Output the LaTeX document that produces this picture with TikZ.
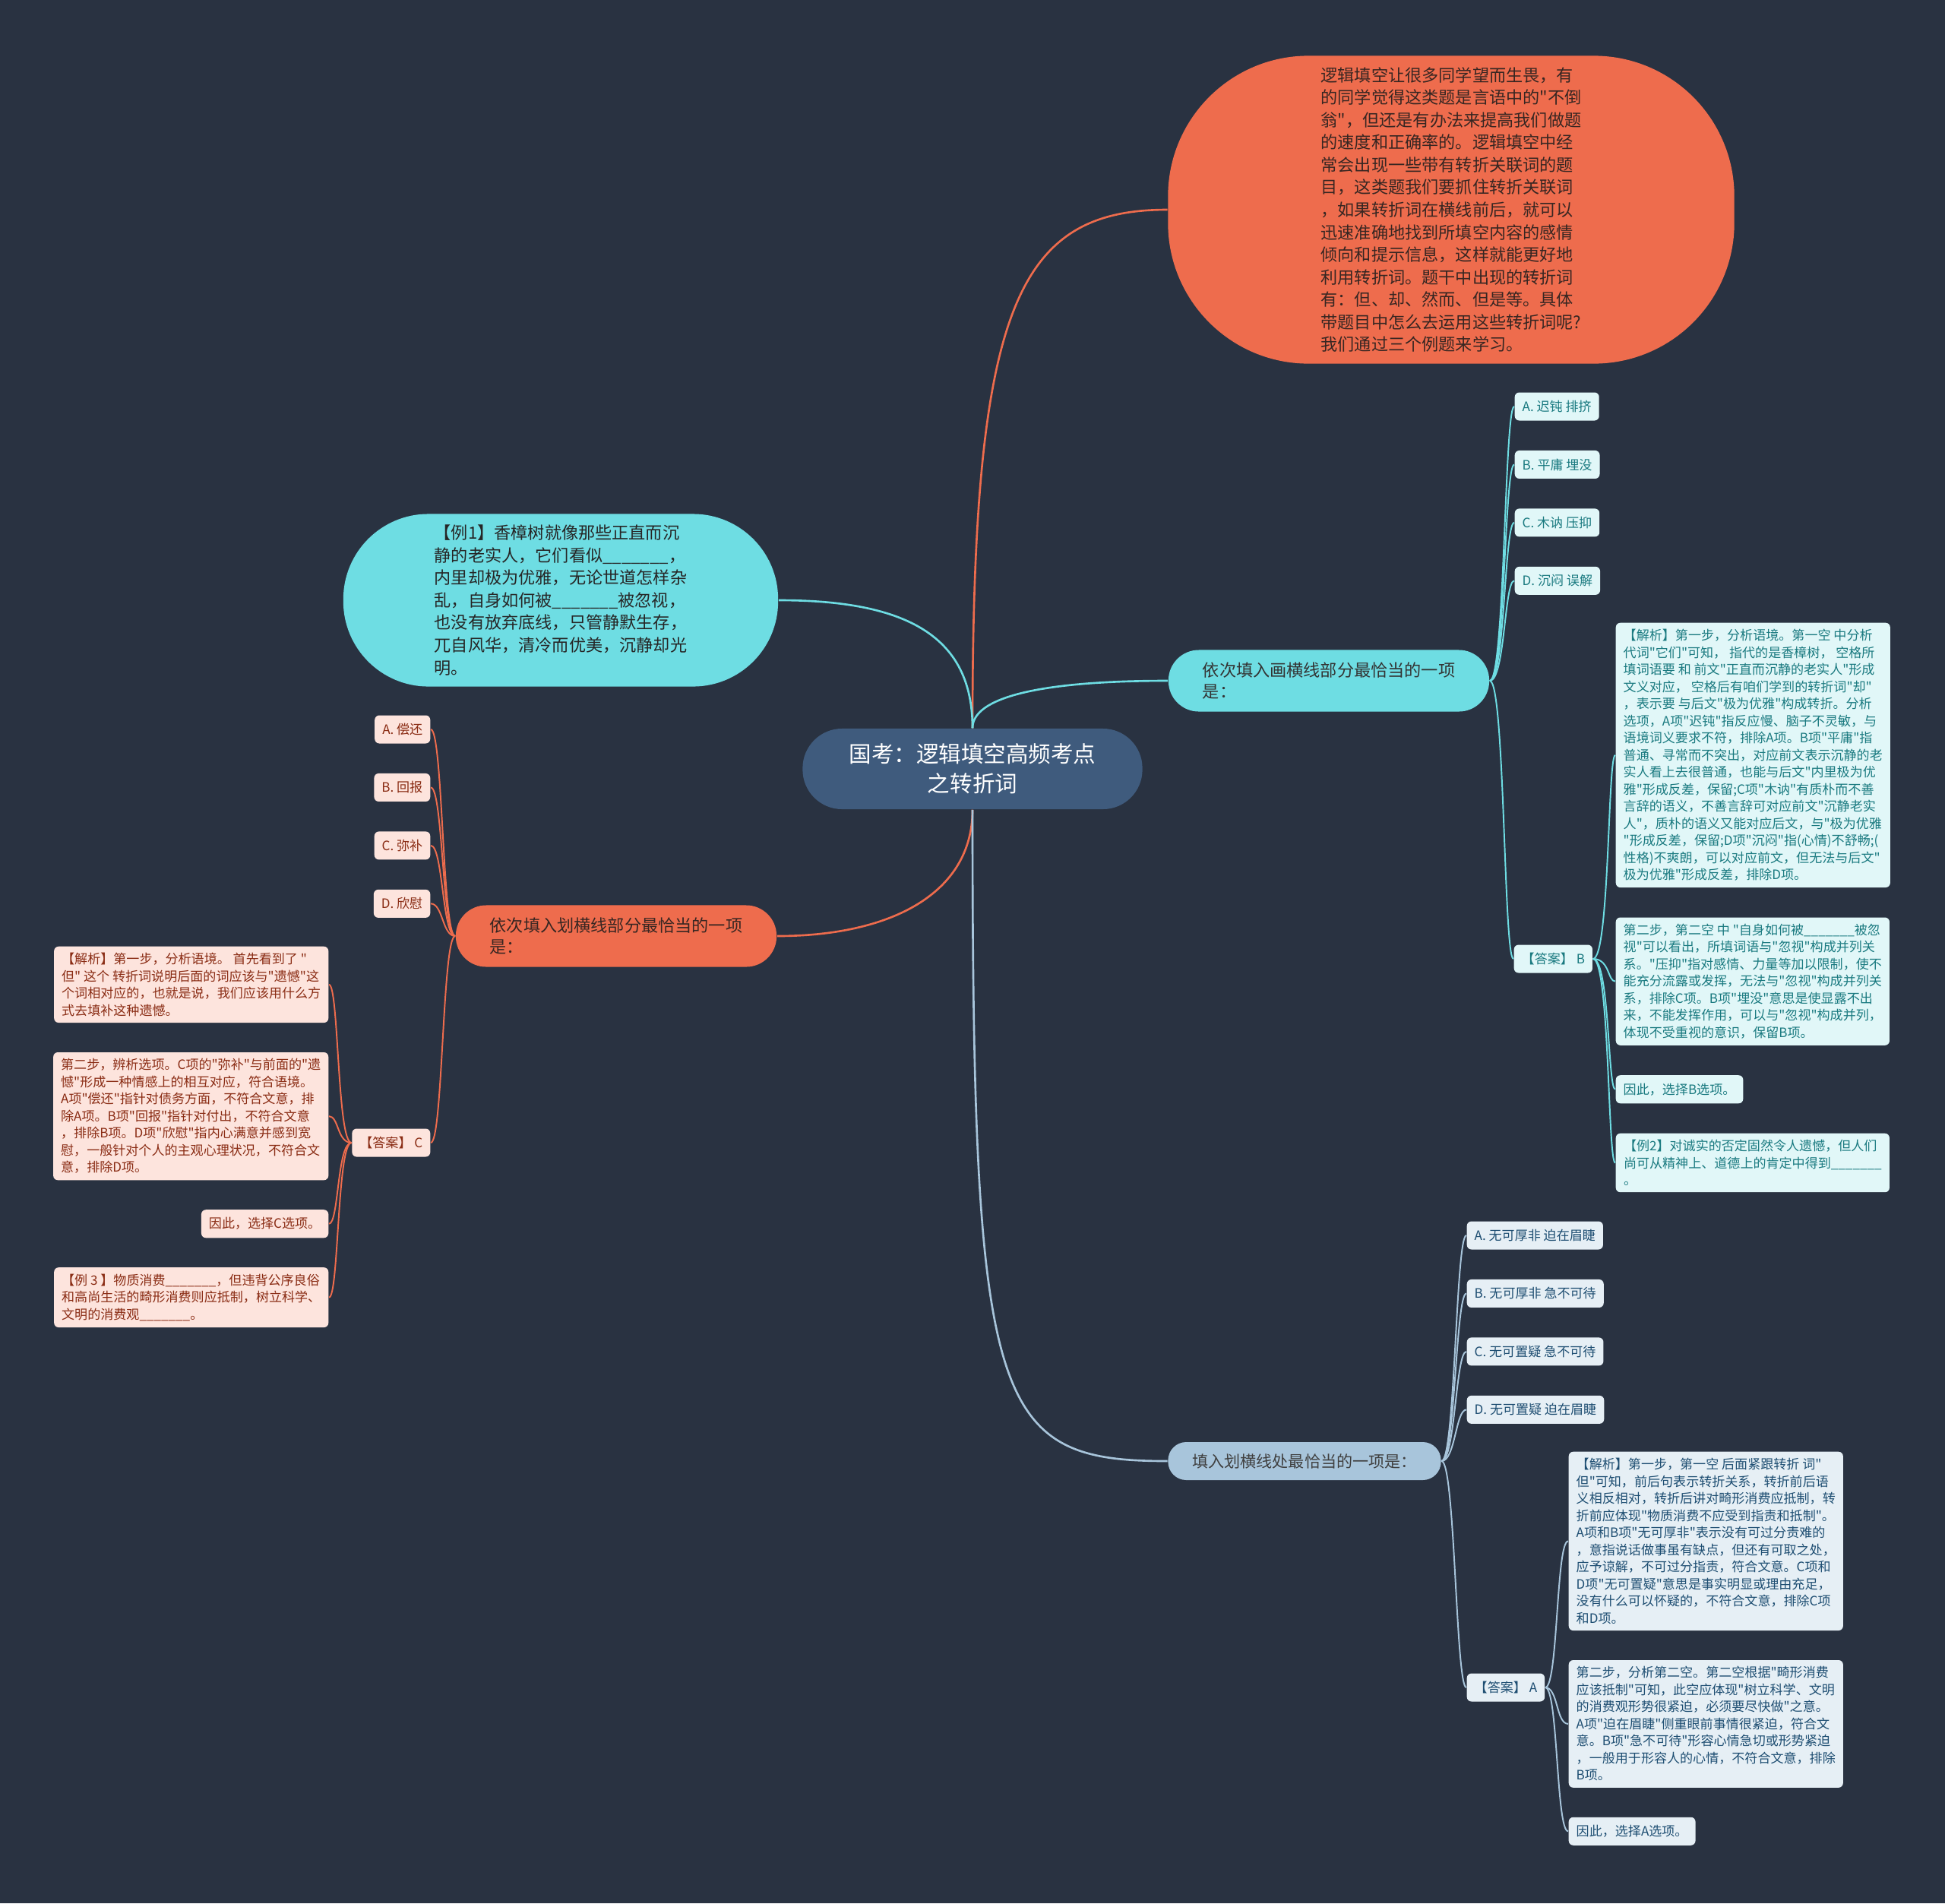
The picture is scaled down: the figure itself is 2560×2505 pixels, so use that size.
\documentclass[tikz,border=0pt]{standalone}
\usepackage{fontspec}
\setmainfont{Noto Sans CJK SC}[Ligatures=TeXOff]
\usetikzlibrary{positioning}

\definecolor{bgNavy}{RGB}{41,50,65}
\definecolor{topicBlue}{RGB}{63,91,125}
\definecolor{coral}{RGB}{238,108,77}
\definecolor{aqua}{RGB}{110,221,227}
\definecolor{steel}{RGB}{168,197,219}
\definecolor{coralLeaf}{RGB}{253,228,221}
\definecolor{aquaLeaf}{RGB}{225,247,248}
\definecolor{steelLeaf}{RGB}{230,239,245}
\definecolor{coralInk}{RGB}{138,44,20}
\definecolor{aquaInk}{RGB}{26,122,128}
\definecolor{steelInk}{RGB}{30,78,114}
\definecolor{darkInk}{RGB}{55,38,34}

\newcommand{\blank}{\_\_\_\_\_\_\_}

\tikzset{topic/.style={rectangle,rounded corners=0.52cm,fill=topicBlue,text=white,
			minimum width=4.47cm,minimum height=1.06cm,inner sep=0pt,align=center,
			font=\fontsize{8.4pt}{11.1pt}\selectfont},
		bubble/.style={rectangle,inner sep=0pt,align=left,font=\fontsize{6.3pt}{8.4pt}\selectfont},
		introBubble/.style={bubble,fill=coral,text=darkInk,rounded corners=1.85cm,
			minimum width=7.45cm,minimum height=4.05cm},
		exBubble/.style={bubble,fill=aqua,text=black!85,rounded corners=1.12cm,
			minimum width=5.72cm,minimum height=2.27cm},
		branch/.style={rectangle,inner sep=0pt,align=left,minimum width=4.22cm,
			minimum height=0.81cm,rounded corners=0.4cm,font=\fontsize{6.3pt}{8.1pt}\selectfont},
		branchAqua/.style={branch,fill=aqua,text=black!80},
		branchCoral/.style={branch,fill=coral,text=darkInk},
		branchSteel/.style={branch,fill=steel,text=black!75,minimum width=3.59cm,
			minimum height=0.5cm,rounded corners=0.24cm,font=\fontsize{6pt}{8pt}\selectfont},
		leaf/.style={rectangle,rounded corners=0.06cm,inner xsep=0.1cm,inner ysep=0.085cm,
			align=left,minimum height=0.37cm,font=\fontsize{4.85pt}{6.4pt}\selectfont},
		optAqua/.style={leaf,fill=aquaLeaf,text=aquaInk},
		optCoral/.style={leaf,fill=coralLeaf,text=coralInk},
		optSteel/.style={leaf,fill=steelLeaf,text=steelInk},
		noteAqua/.style={optAqua,minimum width=3.6cm},
		noteCoral/.style={optCoral,minimum width=3.6cm},
		noteSteel/.style={optSteel,minimum width=3.6cm},
		edgeAqua/.style={draw=aqua,line width=0.75pt},
		edgeCoral/.style={draw=coral,line width=0.75pt},
		edgeSteel/.style={draw=steel,line width=0.75pt},
		twigAqua/.style={draw=aqua,line width=0.55pt},
		twigCoral/.style={draw=coral,line width=0.55pt},
		twigSteel/.style={draw=steel,line width=0.55pt}}

\begin{document}
\begin{tikzpicture}[x=0.01cm,y=-0.01cm]
	\fill[bgNavy] (0,0) rectangle (2560,2505);

	\node [topic] (topic) at (1280,1012) {国考：逻辑填空高频考点\\之转折词};

	\node [introBubble] (intro) at (1910,276) {%
逻辑填空让很多同学望而生畏，有\\%
的同学觉得这类题是言语中的"不倒\\%
翁"，但还是有办法来提高我们做题\\%
的速度和正确率的。逻辑填空中经\\%
常会出现一些带有转折关联词的题\\%
目，这类题我们要抓住转折关联词\\%
，如果转折词在横线前后，就可以\\%
迅速准确地找到所填空内容的感情\\%
倾向和提示信息，这样就能更好地\\%
利用转折词。题干中出现的转折词\\%
有：但、却、然而、但是等。具体\\%
带题目中怎么去运用这些转折词呢?\\%
我们通过三个例题来学习。};

	\node [exBubble] (ex1) at (738,790) {%
【例1】香樟树就像那些正直而沉\\%
静的老实人，它们看似\blank{}，\\%
内里却极为优雅，无论世道怎样杂\\%
乱，自身如何被\blank{}被忽视，\\%
也没有放弃底线，只管静默生存，\\%
兀自风华，清冷而优美，沉静却光\\%
明。};

	\node [branchAqua] (qAqua) at (1749,896) {依次填入画横线部分最恰当的一项\\是：};
	\node [branchCoral] (qCoral) at (811,1232) {依次填入划横线部分最恰当的一项\\是：};
	\node [branchSteel] (qSteel) at (1717,1923) {填入划横线处最恰当的一项是：};

	%example 1 options
	\node [optAqua, anchor=west] (aA) at (1993,535) {A. 迟钝 排挤};
	\node [optAqua, below=0.38cm of aA.south west, anchor=north west] (aB) {B. 平庸 埋没};
	\node [optAqua, below=0.38cm of aB.south west, anchor=north west] (aC) {C. 木讷 压抑};
	\node [optAqua, below=0.38cm of aC.south west, anchor=north west] (aD) {D. 沉闷 误解};
	\node [optAqua, anchor=west] (aAns) at (1992,1262) {【答案】 B};

	\node [noteAqua, anchor=north west] (aN1) at (2126,819) {%
【解析】第一步，分析语境。第一空 中分析\\%
代词"它们"可知， 指代的是香樟树， 空格所\\%
填词语要 和 前文"正直而沉静的老实人"形成\\%
文义对应， 空格后有咱们学到的转折词"却"\\%
，表示要 与后文"极为优雅"构成转折。分析\\%
选项，A项"迟钝"指反应慢、脑子不灵敏，与\\%
语境词义要求不符，排除A项。B项"平庸"指\\%
普通、寻常而不突出，对应前文表示沉静的老\\%
实人看上去很普通，也能与后文"内里极为优\\%
雅"形成反差，保留;C项"木讷"有质朴而不善\\%
言辞的语义，不善言辞可对应前文"沉静老实\\%
人"，质朴的语义又能对应后文，与"极为优雅\\%
"形成反差，保留;D项"沉闷"指(心情)不舒畅;(\\%
性格)不爽朗，可以对应前文，但无法与后文"\\%
极为优雅"形成反差，排除D项。};
	\node [noteAqua, below=0.38cm of aN1.south west, anchor=north west] (aN2) {%
第二步，第二空 中 "自身如何被\blank{}被忽\\%
视"可以看出，所填词语与"忽视"构成并列关\\%
系。"压抑"指对感情、力量等加以限制，使不\\%
能充分流露或发挥，无法与"忽视"构成并列关\\%
系，排除C项。B项"埋没"意思是使显露不出\\%
来，不能发挥作用，可以与"忽视"构成并列，\\%
体现不受重视的意识，保留B项。};
	\node [optAqua, below=0.38cm of aN2.south west, anchor=north west] (aN3) {因此，选择B选项。};
	\node [noteAqua, below=0.38cm of aN3.south west, anchor=north west] (aN4) {%
【例2】对诚实的否定固然令人遗憾，但人们\\%
尚可从精神上、道德上的肯定中得到\blank{}\\%
。};

	%example 2 options
	\node [optCoral, anchor=east] (cA) at (567,960) {A. 偿还};
	\node [optCoral, below=0.38cm of cA.south east, anchor=north east] (cB) {B. 回报};
	\node [optCoral, below=0.38cm of cB.south east, anchor=north east] (cC) {C. 弥补};
	\node [optCoral, below=0.38cm of cC.south east, anchor=north east] (cD) {D. 欣慰};
	\node [optCoral, anchor=east] (cAns) at (567,1504) {【答案】 C};

	\node [noteCoral, anchor=north east] (cN1) at (433,1245) {%
【解析】第一步，分析语境。 首先看到了 "\\%
但" 这个 转折词说明后面的词应该与"遗憾"这\\%
个词相对应的，也就是说，我们应该用什么方\\%
式去填补这种遗憾。};
	\node [noteCoral, below=0.375cm of cN1.south east, anchor=north east] (cN2) {%
第二步，辨析选项。C项的"弥补"与前面的"遗\\%
憾"形成一种情感上的相互对应，符合语境。\\%
A项"偿还"指针对债务方面，不符合文意，排\\%
除A项。B项"回报"指针对付出，不符合文意\\%
，排除B项。D项"欣慰"指内心满意并感到宽\\%
慰，一般针对个人的主观心理状况，不符合文\\%
意，排除D项。};
	\node [optCoral, below=0.375cm of cN2.south east, anchor=north east] (cN3) {因此，选择C选项。};
	\node [noteCoral, below=0.375cm of cN3.south east, anchor=north east] (cN4) {%
【例 3 】物质消费\blank{}，但违背公序良俗\\%
和高尚生活的畸形消费则应抵制，树立科学、\\%
文明的消费观\blank{}。};

	%example 3 options
	\node [optSteel, anchor=west] (sA) at (1930,1626) {A. 无可厚非 迫在眉睫};
	\node [optSteel, below=0.38cm of sA.south west, anchor=north west] (sB) {B. 无可厚非 急不可待};
	\node [optSteel, below=0.38cm of sB.south west, anchor=north west] (sC) {C. 无可置疑 急不可待};
	\node [optSteel, below=0.38cm of sC.south west, anchor=north west] (sD) {D. 无可置疑 迫在眉睫};
	\node [optSteel, anchor=west] (sAns) at (1930,2221) {【答案】 A};

	\node [noteSteel, anchor=north west] (sN1) at (2064,1910) {%
【解析】第一步，第一空 后面紧跟转折 词"\\%
但"可知，前后句表示转折关系，转折前后语\\%
义相反相对，转折后讲对畸形消费应抵制，转\\%
折前应体现"物质消费不应受到指责和抵制"。\\%
A项和B项"无可厚非"表示没有可过分责难的\\%
，意指说话做事虽有缺点，但还有可取之处，\\%
应予谅解，不可过分指责，符合文意。C项和\\%
D项"无可置疑"意思是事实明显或理由充足，\\%
没有什么可以怀疑的，不符合文意，排除C项\\%
和D项。};
	\node [noteSteel, below=0.375cm of sN1.south west, anchor=north west] (sN2) {%
第二步，分析第二空。第二空根据"畸形消费\\%
应该抵制"可知，此空应体现"树立科学、文明\\%
的消费观形势很紧迫，必须要尽快做"之意。\\%
A项"迫在眉睫"侧重眼前事情很紧迫，符合文\\%
意。B项"急不可待"形容心情急切或形势紧迫\\%
，一般用于形容人的心情，不符合文意，排除\\%
B项。};
	\node [optSteel, below=0.375cm of sN2.south west, anchor=north west] (sN3) {因此，选择A选项。};

	%edges
	\draw[edgeCoral] (topic.north) .. controls +(0,-550) and +(-200,0) .. (intro.west);
	\draw[edgeAqua] (topic.north) .. controls +(0,-120) and +(170,0) .. (ex1.east);
	\draw[edgeAqua] (topic.north) .. controls +(0,-40) and +(-170,0) .. (qAqua.west);
	\draw[edgeCoral] (topic.south) .. controls +(0,110) and +(150,0) .. (qCoral.east);
	\draw[edgeSteel] (topic.south) .. controls +(0,790) and +(-230,0) .. (qSteel.west);

	\draw[twigAqua] (qAqua.east) .. controls +(20,0) and +(-13,0) .. (aA.west);
	\draw[twigAqua] (qAqua.east) .. controls +(20,0) and +(-13,0) .. (aB.west);
	\draw[twigAqua] (qAqua.east) .. controls +(20,0) and +(-13,0) .. (aC.west);
	\draw[twigAqua] (qAqua.east) .. controls +(20,0) and +(-13,0) .. (aD.west);
	\draw[twigAqua] (qAqua.east) .. controls +(20,0) and +(-13,0) .. (aAns.west);
	\draw[twigAqua] (aAns.east) .. controls +(22,0) and +(-10,0) .. (aN1.west);
	\draw[twigAqua] (aAns.east) .. controls +(22,0) and +(-10,0) .. (aN2.west);
	\draw[twigAqua] (aAns.east) .. controls +(22,0) and +(-10,0) .. (aN3.west);
	\draw[twigAqua] (aAns.east) .. controls +(22,0) and +(-10,0) .. (aN4.west);

	\draw[twigCoral] (qCoral.west) .. controls +(-17,0) and +(16,0) .. (cA.east);
	\draw[twigCoral] (qCoral.west) .. controls +(-17,0) and +(16,0) .. (cB.east);
	\draw[twigCoral] (qCoral.west) .. controls +(-17,0) and +(16,0) .. (cC.east);
	\draw[twigCoral] (qCoral.west) .. controls +(-17,0) and +(16,0) .. (cD.east);
	\draw[twigCoral] (qCoral.west) .. controls +(-17,0) and +(16,0) .. (cAns.east);
	\draw[twigCoral] (cAns.west) .. controls +(-19,0) and +(13,0) .. (cN1.east);
	\draw[twigCoral] (cAns.west) .. controls +(-19,0) and +(13,0) .. (cN2.east);
	\draw[twigCoral] (cAns.west) .. controls +(-19,0) and +(13,0) .. (cN3.east);
	\draw[twigCoral] (cAns.west) .. controls +(-19,0) and +(13,0) .. (cN4.east);

	\draw[twigSteel] (qSteel.east) .. controls +(18,0) and +(-14,0) .. (sA.west);
	\draw[twigSteel] (qSteel.east) .. controls +(18,0) and +(-14,0) .. (sB.west);
	\draw[twigSteel] (qSteel.east) .. controls +(18,0) and +(-14,0) .. (sC.west);
	\draw[twigSteel] (qSteel.east) .. controls +(18,0) and +(-14,0) .. (sD.west);
	\draw[twigSteel] (qSteel.east) .. controls +(18,0) and +(-14,0) .. (sAns.west);
	\draw[twigSteel] (sAns.east) .. controls +(17,0) and +(-16,0) .. (sN1.west);
	\draw[twigSteel] (sAns.east) .. controls +(17,0) and +(-16,0) .. (sN2.west);
	\draw[twigSteel] (sAns.east) .. controls +(17,0) and +(-16,0) .. (sN3.west);
\end{tikzpicture}
\end{document}
